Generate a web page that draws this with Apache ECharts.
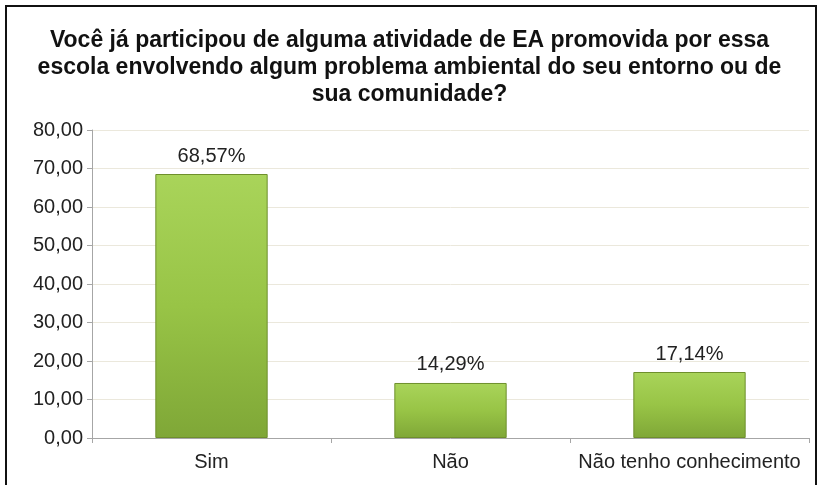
<!DOCTYPE html>
<html>
<head>
<meta charset="utf-8">
<script src="https://cdn.jsdelivr.net/npm/echarts@6/dist/echarts.min.js"></script>
<style>
html,body{margin:0;padding:0;background:#fff;}
#chart{width:819px;height:485px;}
</style>
</head>
<body>
<div id="chart"></div>
<script>
const titleText = 'Você já participou de alguma atividade de EA promovida por essa\nescola envolvendo algum problema ambiental do seu entorno ou de\nsua comunidade?';
const categories = ['Sim', 'Não', 'Não tenho conhecimento'];
const values = [68.57, 14.29, 17.14];
const yMin = 0, yMax = 80, yInterval = 10;

const fmt = v => v.toFixed(2).replace('.', ',');
const chart = echarts.init(document.getElementById('chart'));
chart.setOption({
  animation: false,
  backgroundColor: '#fff',
  textStyle: { fontFamily: 'Liberation Sans, Arial, sans-serif' },
  title: {
    text: titleText,
    left: 'center',
    top: 22,
    textStyle: { fontSize: 23, fontWeight: 'bold', color: '#111', lineHeight: 27, fontFamily: 'Liberation Sans, Arial, sans-serif' }
  },
  graphic: [{
    type: 'polyline',
    shape: { points: [[6, 490], [6, 6], [816, 6], [816, 490]] },
    style: { stroke: '#111', lineWidth: 2, fill: null },
    silent: true
  }],
  grid: { left: 92, right: 10, top: 130, bottom: 47 },
  xAxis: {
    type: 'category',
    data: categories,
    axisLine: { lineStyle: { color: '#a6a6a6' } },
    axisTick: { show: true, length: 5, lineStyle: { color: '#a6a6a6' } },
    axisLabel: { fontSize: 20, color: '#222', margin: 14, interval: 0, hideOverlap: false }
  },
  yAxis: {
    type: 'value',
    min: yMin, max: yMax, interval: yInterval,
    axisLine: { show: true, lineStyle: { color: '#a6a6a6' } },
    axisTick: { show: true, length: 5, lineStyle: { color: '#a6a6a6' } },
    splitLine: { lineStyle: { color: '#ebe8dc' } },
    axisLabel: { fontSize: 20, color: '#222', margin: 9, formatter: v => fmt(v) }
  },
  series: [{
    type: 'bar',
    data: values,
    barWidth: '47%',
    itemStyle: {
      color: new echarts.graphic.LinearGradient(0, 0, 0, 1, [
        { offset: 0, color: '#a9d45a' },
        { offset: 0.5, color: '#98c446' },
        { offset: 1, color: '#7fa737' }
      ]),
      borderColor: '#6e8f2c',
      borderWidth: 1
    },
    label: {
      show: true,
      position: 'top',
      distance: 8,
      fontSize: 20,
      color: '#222',
      formatter: p => fmt(p.value) + '%'
    }
  }]
});
</script>
</body>
</html>
